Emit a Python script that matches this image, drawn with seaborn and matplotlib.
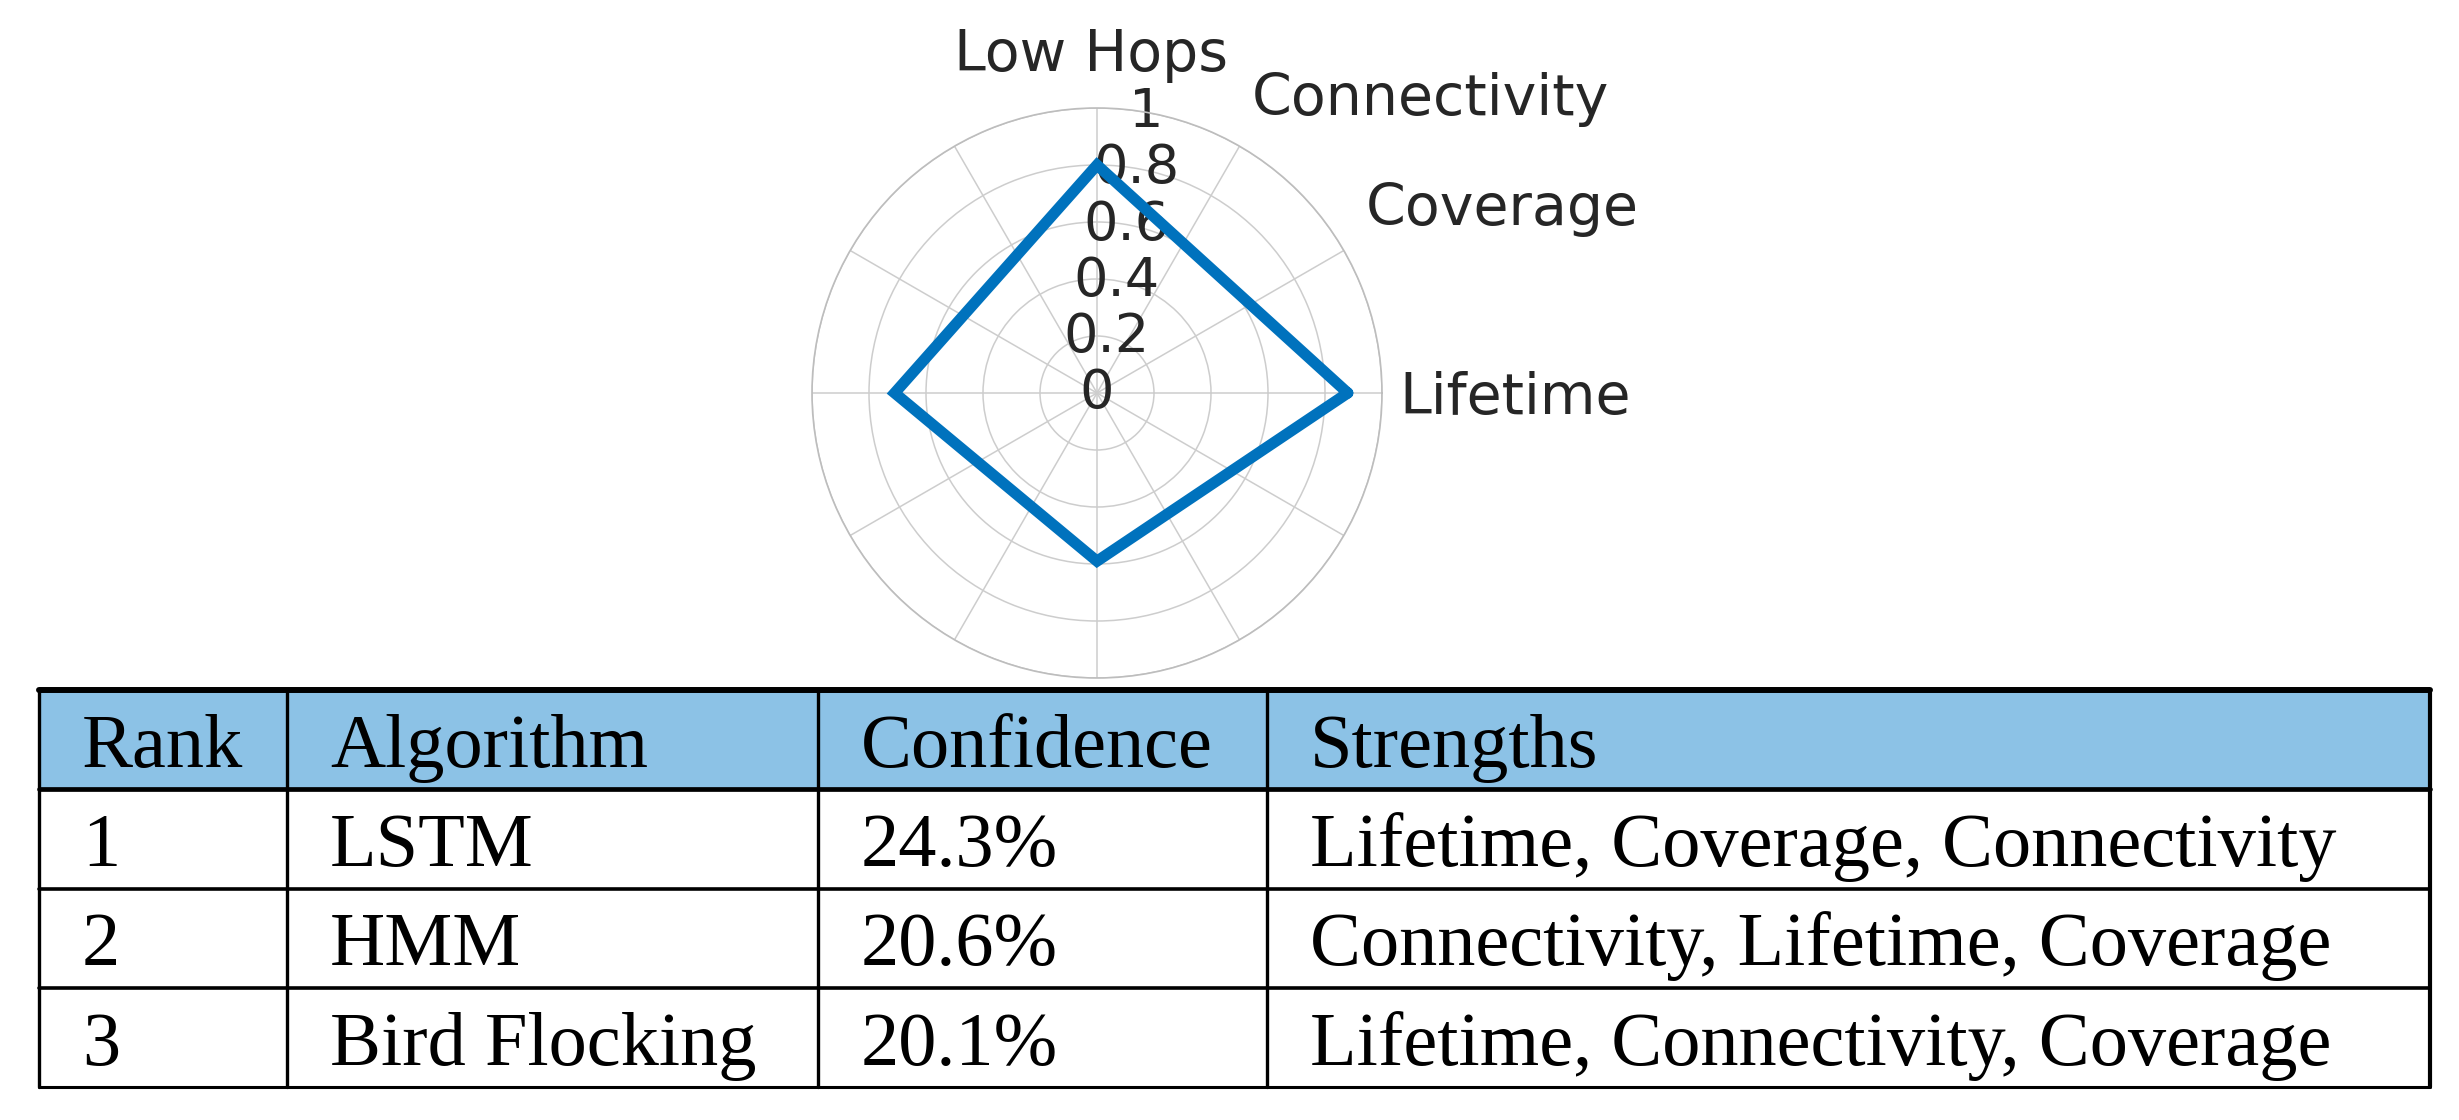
import numpy as np
import seaborn as sns
import matplotlib
matplotlib.use("Agg")
from matplotlib import pyplot as plt

# radar values (polar plot, points every 90 deg, closed back to the start)
axis_labels = ["Lifetime", "Coverage", "Connectivity", "Low Hops"]
radar_theta_deg = [0, 90, 180, 270, 360]
radar_values = [0.88, 0.80, 0.71, 0.59, 0.88]
r_ticks = [0, 0.2, 0.4, 0.6, 0.8, 1.0]

# ranking table
table_header = ["Rank", "Algorithm", "Confidence", "Strengths"]
ranks = ["1", "2", "3"]
algorithms = ["LSTM", "HMM", "Bird Flocking"]
confidence = ["24.3%", "20.6%", "20.1%"]
strengths = ["Lifetime, Coverage, Connectivity",
             "Connectivity, Lifetime, Coverage",
             "Lifetime, Connectivity, Coverage"]

# layout / style
line_blue = "#0072BD"
header_blue = "#8CC2E6"
text_grey = "#262626"
grid_grey = "#cdcdcd"
label_theta_deg = [-4, 32, 61, 91]
label_r = [1.065, 1.113, 1.117, 1.13]
label_ha = ["left", "left", "left", "center"]
col_edges = [0, 248, 779, 1228, 2391]

sns.set_style("white")
plt.rcParams['font.family'] = ['DejaVu Sans']

W, H = 2459, 1120
fig = plt.figure(figsize=(W / 100, H / 100), dpi=100)
fig.patch.set_facecolor("white")

# ---- radar chart ----
cx, cy, rad = 1097, 393, 285
ax = fig.add_axes([(cx - rad) / W, (H - cy - rad) / H, 2 * rad / W, 2 * rad / H],
                  projection="polar")
ax.set_axisbelow(True)
sns.lineplot(x=np.deg2rad(radar_theta_deg), y=radar_values, sort=False,
             estimator=None, ax=ax, color=line_blue, lw=8,
             solid_joinstyle="miter", zorder=3)
ax.set_ylim(0, 1)
ax.set_yticks(r_ticks)
ax.set_yticklabels([])
ax.set_xticks(np.deg2rad(np.arange(0, 360, 30)))
ax.set_xticklabels([])
ax.set_xlabel("")
ax.set_ylabel("")
ax.tick_params(length=0)
ax.grid(True, color=grid_grey, lw=1.1)
ax.spines["polar"].set_color("#bdbdbd")
ax.spines["polar"].set_linewidth(1.2)

for v in r_ticks:
    ax.text(np.deg2rad(80), v, f"{v:g}", ha="center", va="center",
            fontsize=39, color=text_grey, zorder=1)

for name, th, r, ha in zip(axis_labels, label_theta_deg, label_r, label_ha):
    ax.text(np.deg2rad(th), r, name, ha=ha, va="baseline",
            fontsize=41, color=text_grey)

# ---- table ----
tx0, tx1, ty0, ty1 = 39, 2430, 690, 1087
tax = fig.add_axes([tx0 / W, (H - ty1) / H, (tx1 - tx0) / W, (ty1 - ty0) / H])
tax.set_xlim(col_edges[0], col_edges[-1])
tax.set_ylim(4, 0)
tax.axis("off")
tax.axhspan(0, 1, color=header_blue, zorder=0)

h_lw = [4.3, 3.4, 2.6, 2.6, 2.2]
for y, lw in zip(range(5), h_lw):
    tax.axhline(y, color="black", lw=lw, clip_on=False, zorder=2)
v_lw = [2.4, 2.4, 2.4, 2.4, 3.0]
for x, lw in zip(col_edges, v_lw):
    tax.axvline(x, color="black", lw=lw, clip_on=False, zorder=2)

rows = [table_header] + [list(r) for r in zip(ranks, algorithms, confidence, strengths)]
for i, row in enumerate(rows):
    for j, cell in enumerate(row):
        tax.text(col_edges[j] + 43, i + 0.775, cell, ha="left", va="baseline",
                 fontfamily="Liberation Serif", fontsize=55, color="black")

fig.savefig("out.png", dpi=100)
